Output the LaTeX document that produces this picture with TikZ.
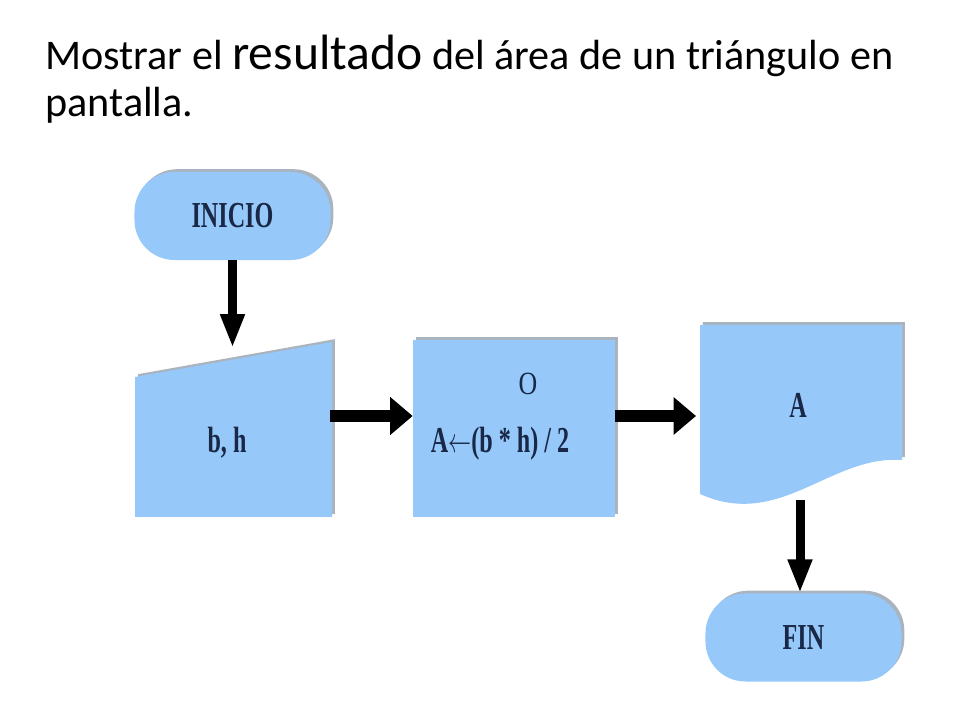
\documentclass[tikz,border=0pt]{standalone}
\usepackage{fontspec}
\usepackage{graphicx}
\setmainfont{Liberation Serif}
\newfontfamily\titlefont{Carlito}
\usetikzlibrary{arrows.meta,shadows}
\definecolor{cajaazul}{RGB}{150,200,250}
\definecolor{sombra}{RGB}{170,180,190}
\definecolor{tinta}{RGB}{25,40,70}
\newcommand\angosto[1]{\scalebox{0.66}[1]{#1}}
\begin{document}
\begin{tikzpicture}[x=0.025cm,y=-0.025cm,line join=round,>={Triangle[length=16pt,width=26pt]}]
				\tikzset{caja/.style={fill=cajaazul,drop shadow={shadow xshift=2pt,shadow yshift=2pt,fill=sombra,opacity=1}},
					texto/.style={text=tinta,font=\bfseries\fontsize{26}{30}\selectfont,inner sep=0pt},
					terminal/.style={caja,texto,rounded corners=1cm,minimum width=4.9cm,minimum height=2.2cm},
					flecha/.style={->,line width=9pt},
					flechav/.style={-{Triangle[length=24pt,width=16pt]},line width=6.4pt}}
				\useasboundingbox (0,0) rectangle (960,720);
				\node[anchor=base west,inner sep=0pt,font=\titlefont\fontsize{30}{36}\selectfont] (titulo1) at (45,70) {Mostrar el {\fontsize{35.3}{42}\selectfont resultado} del área de un triángulo en};
				\node[anchor=base west,inner sep=0pt,font=\titlefont\fontsize{30}{36}\selectfont] (titulo2) at (45,117) {pantalla.};
				\node[terminal] (inicio) at (232.5,216) {\angosto{INICIO}};
				\fill[caja] (135,377)--(332,342)--(332,517)--(135,517)--cycle;
				\node[texto] (bh) at (227,443) {\angosto{b, h}};
				\coordinate (entrada-n) at (232.5,348);
				\coordinate (entrada-e) at (330,416);
				\node[caja,minimum width=5.05cm,minimum height=4.425cm] (proceso) at (514,428.5) {};
				\node[texto,font=\fontsize{23}{26}\selectfont] (op-o) at (528,384) {\scalebox{0.8}[1]{O}};
				\node[texto] (op-a) at (500,444) {\angosto{A$\leftarrow$(b * h) / 2}};
				\fill[caja] (700,325)--(902,325)--(902,460) .. controls (830,455) and (780,530) .. (700,494)--cycle;
				\node[texto] (salida) at (798,405) {\angosto{A}};
				\coordinate (doc-w) at (696,416);
				\coordinate (doc-s) at (800,500);
				\node[terminal] (fin) at (803.5,637.5) {\angosto{FIN}};
				\draw[flechav] (inicio.south)--(entrada-n);
				\draw[flecha] (entrada-e)--(entrada-e -| proceso.west);
				\draw[flecha] (entrada-e -| proceso.east)--(doc-w);
				\draw[flechav] (doc-s)--(doc-s |- fin.north);
			\end{tikzpicture}
\end{document}
